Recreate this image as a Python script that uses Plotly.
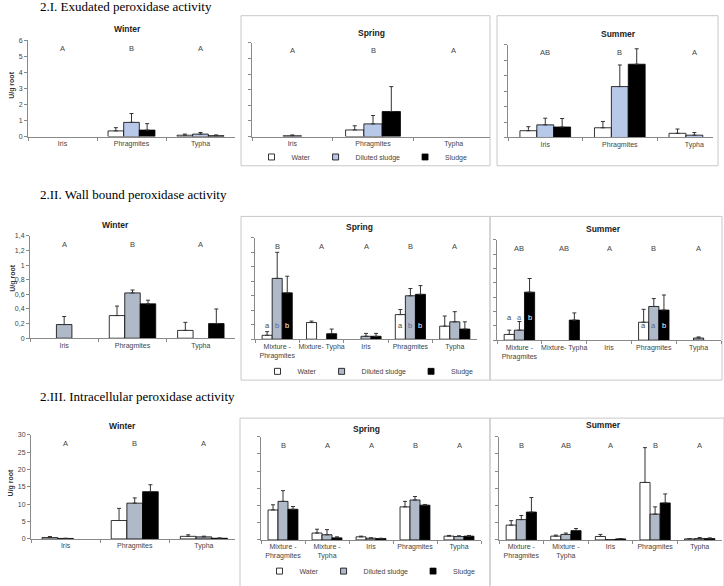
import plotly.graph_objects as go

W, H = 724, 586

# ---------------- data ----------------
SERIES = ["Water", "Diluted sludge", "Sludge"]
CATS3 = ["Iris", "Phragmites", "Typha"]
CATS5_WB = ["Mixture -<br>Phragmites", "Mixture- Typha", "Iris", "Phragmites", "Typha"]
CATS5_IC = ["Mixture -<br>Phragmites", "Mixture -<br>Typha", "Iris", "Phragmites", "Typha"]

# 2.I Exudated peroxidase activity (U/g root); rows = Water, Diluted sludge, Sludge
EX_WINTER = [[None, 0.35, 0.08], [None, 0.88, 0.15], [None, 0.40, 0.05]]
EX_WINTER_ERR = [[None, 0.20, 0.07], [None, 0.55, 0.10], [None, 0.40, 0.05]]
EX_SPRING = [[None, 0.42, None], [0.05, 0.81, None], [None, 1.60, None]]
EX_SPRING_ERR = [[None, 0.27, None], [0.05, 0.54, None], [None, 1.60, None]]
EX_SUMMER = [[0.44, 0.63, 0.27], [0.82, 3.30, 0.15], [0.68, 4.75, None]]
EX_SUMMER_ERR = [[0.26, 0.41, 0.28], [0.43, 1.40, 0.17], [0.55, 1.00, None]]

# 2.II Wall bound peroxidase activity
WB_WINTER = [[None, 0.31, 0.107], [0.187, 0.62, None], [None, 0.47, 0.20]]
WB_WINTER_ERR = [[None, 0.13, 0.11], [0.11, 0.04, None], [None, 0.05, 0.20]]
WB_SPRING = [[0.054, 0.23, None, 0.34, 0.18], [0.84, None, 0.04, 0.60, 0.24], [0.64, 0.076, 0.04, 0.62, 0.14]]
WB_SPRING_ERR = [[0.05, 0.02, None, 0.07, 0.14], [0.36, None, 0.04, 0.10, 0.14], [0.23, 0.064, 0.04, 0.12, 0.10]]
WB_SUMMER = [[0.08, None, None, 0.25, None], [0.14, None, None, 0.47, 0.03], [0.67, 0.28, None, 0.42, None]]
WB_SUMMER_ERR = [[0.06, None, None, 0.18, None], [0.12, None, None, 0.11, 0.015], [0.19, 0.10, None, 0.21, None]]

# 2.III Intracellular peroxidase activity
IC_WINTER = [[0.40, 5.3, 0.75], [0.15, 10.3, 0.60], [None, 13.6, 0.20]]
IC_WINTER_ERR = [[0.30, 3.5, 0.45], [0.05, 1.5, 0.20], [None, 2.0, 0.10]]
IC_SPRING = [[8.7, 2.0, 0.9, 9.6, 1.1], [11.2, 1.5, 0.5, 11.6, 1.0], [8.9, 0.6, 0.4, 10.1, 1.1]]
IC_SPRING_ERR = [[1.5, 1.1, 0.2, 1.6, 0.2], [3.1, 1.5, 0.1, 1.0, 0.2], [0.8, 0.3, 0.1, 0.2, 0.2]]
IC_SUMMER = [[4.3, 1.1, 1.0, 16.7, 0.3], [5.9, 1.6, 0.1, 7.5, 0.4], [8.1, 2.7, 0.3, 10.75, 0.4]]
IC_SUMMER_ERR = [[1.3, 0.3, 0.6, 10.1, 0.1], [1.2, 0.4, None, 2.1, 0.3], [4.2, 0.6, 0.1, 2.6, 0.2]]

# significance letters
EX_LETTERS = [["A", "B", "A"], ["A", "B", "A"], ["AB", "B", "A"]]
WB_LETTERS = [["A", "B", "A"], ["B", "A", "A", "B", "A"], ["AB", "AB", "A", "B", "A"]]
IC_LETTERS = [["A", "B", "A"], ["B", "A", "A", "B", "A"], ["B", "AB", "A", "B", "A"]]
WB_SPRING_SUB = [["a", "b", "b"], [], [], ["a", "b", "b"], []]
WB_SUMMER_SUB = [["a", "a", "b"], [], [], ["a", "a", "b"], []]

Y_TICKS = {
    "ex": ([0, 1, 2, 3, 4, 5, 6], ["0", "1", "2", "3", "4", "5", "6"]),
    "wb": ([0, 0.2, 0.4, 0.6, 0.8, 1.0, 1.2, 1.4], ["0", "0,2", "0,4", "0,6", "0,8", "1", "1,2", "1,4"]),
    "ic": ([0, 5, 10, 15, 20, 25, 30], ["0", "5", "10", "15", "20", "25", "30"]),
}

# ---------------- layout spec (pixels) ----------------
BARGAP = 0.32
BW = (1 - BARGAP) / 3
DIL_ROW1 = "#b7c8e8"
DIL_ROW23 = "#b0b9c8"

# kind, season, cats, vals, errs, letters, x0, x1, yzero, ytop, xrange
PANELS = [
    ("ex", "Winter", CATS3, EX_WINTER, EX_WINTER_ERR, EX_LETTERS[0], 28, 235, 136, 37, [-0.5, 2.5]),
    ("ex", "Spring", CATS3, EX_SPRING, EX_SPRING_ERR, EX_LETTERS[1], 252, 490, 136, 40, [-0.5, 2.45]),
    ("ex", "Summer", CATS3, EX_SUMMER, EX_SUMMER_ERR, EX_LETTERS[2], 508, 713, 137, 42, [-0.5, 2.25]),
    ("wb", "Winter", CATS3, WB_WINTER, WB_WINTER_ERR, WB_LETTERS[0], 30, 235, 343, 238, [-0.5, 2.5]),
    ("wb", "Spring", CATS5_WB, WB_SPRING, WB_SPRING_ERR, WB_LETTERS[1], 255, 477, 344, 240, [-0.5, 4.5]),
    ("wb", "Summer", CATS5_WB, WB_SUMMER, WB_SUMMER_ERR, WB_LETTERS[2], 497, 721, 345, 242, [-0.5, 4.5]),
    ("ic", "Winter", CATS3, IC_WINTER, IC_WINTER_ERR, IC_LETTERS[0], 31, 235, 549, 442, [-0.5, 2.45]),
    ("ic", "Spring", CATS5_IC, IC_SPRING, IC_SPRING_ERR, IC_LETTERS[1], 261, 481, 550, 444, [-0.5, 4.5]),
    ("ic", "Summer", CATS5_IC, IC_SUMMER, IC_SUMMER_ERR, IC_LETTERS[2], 499, 722, 550, 444, [-0.5, 4.5]),
]
YMAX = {"ex": 6, "wb": 1.4, "ic": 30}
SEASON_TITLE_POS = [(127, 26), (371, 30), (618, 31), (115, 227), (359, 229), (603, 231), (122, 433), (367, 436), (603, 432)]
SECTION_TITLES = [("2.I. Exudated peroxidase activity", 3),
                  ("2.II. Wall bound peroxidase activity", 196),
                  ("2.III. Intracellular peroxidase activity", 403)]
YTITLE_POS = [(12, 84), (13, 282), (11, 492)]
LEGEND_POS = [(362, 157), (368, 377), (370, 582)]
FRAMES = [(241, 12, 490, 166), (497, 12, 718, 166),
          (241, 218, 490, 386), (490, 218, 722, 386),
          (240, 425, 490, 600), (490, 425, 724, 600)]


def px(x):
    return x / W


def py(y):
    return 1 - y / H


AX_COLOR = "#8a8a8a"
TICK_FONT = dict(family="Liberation Sans, Arial", size=7, color="#444")

fig = go.Figure()
layout = dict(
    width=W, height=H, margin=dict(l=0, r=0, t=0, b=0),
    paper_bgcolor="white", plot_bgcolor="white",
    barmode="group", bargap=BARGAP, bargroupgap=0,
    showlegend=True, annotations=[], shapes=[],
)

for i, (kind, season, cats, vals, errs, letters, x0, x1, yz, yt, xr) in enumerate(PANELS):
    n = i + 1
    xa = "x" if n == 1 else f"x{n}"
    ya = "y" if n == 1 else f"y{n}"
    dil = DIL_ROW1 if kind == "ex" else DIL_ROW23
    fills = ["white", dil, "black"]
    for s, name in enumerate(SERIES):
        fig.add_trace(go.Bar(
            x=cats, y=vals[s], name=name, xaxis=xa, yaxis=ya, showlegend=False,
            marker=dict(color=fills[s], line=dict(color="black", width=0.8)),
            error_y=dict(type="data", symmetric=False, array=errs[s],
                         arrayminus=[0] * len(cats), color="#333", thickness=1, width=2),
        ))
    ymax = YMAX[kind]
    tv, tt = Y_TICKS[kind]
    layout["xaxis" if n == 1 else f"xaxis{n}"] = dict(
        domain=[px(x0), px(x1)], anchor=ya, type="category", range=xr,
        showline=True, linecolor=AX_COLOR, linewidth=1, ticks="outside", tickson="boundaries",
        ticklen=3, tickcolor=AX_COLOR, tickfont=TICK_FONT, tickangle=0,
        showgrid=False, fixedrange=True,
    )
    layout["yaxis" if n == 1 else f"yaxis{n}"] = dict(
        domain=[py(yz), py(yt)], anchor=xa, range=[0, ymax],
        showline=True, linecolor=AX_COLOR, linewidth=1, ticks="outside", ticklen=3,
        tickcolor=AX_COLOR, tickvals=tv, ticktext=tt, tickfont=TICK_FONT,
        showgrid=False, zeroline=False, fixedrange=True,
        showticklabels=(season == "Winter"),
    )

    # season title
    tx, ty = SEASON_TITLE_POS[i]
    layout["annotations"].append(dict(
        text=f"<b>{season}</b>", x=px(tx), y=py(ty), xref="paper", yref="paper",
        showarrow=False, xanchor="center", yanchor="middle",
        font=dict(family="Liberation Sans, Arial", size=8.5, color="#222")))
    # group letters
    for c, letter in enumerate(letters):
        layout["annotations"].append(dict(
            text=letter, x=c, y=ymax * 0.915, xref=xa, yref=ya, showarrow=False,
            font=dict(family="Liberation Sans, Arial", size=7.5, color="#444")))

# sub letters in wall bound spring/summer
for n, subs, ypos in [(5, WB_SPRING_SUB, [0.19, None, None, 0.19, None]),
                      (6, WB_SUMMER_SUB, [0.32, None, None, 0.20, None])]:
    for c, trio in enumerate(subs):
        for s, letter in enumerate(trio):
            layout["annotations"].append(dict(
                text=letter, x=c + (s - 1) * BW, y=ypos[c], xref=f"x{n}", yref=f"y{n}",
                showarrow=False,
                font=dict(family="Liberation Sans, Arial", size=7.5,
                          color=("#444" if s == 0 else ("white" if s == 2 else "#5a6890")))))

# section titles
for text, ty in SECTION_TITLES:
    layout["annotations"].append(dict(
        text=text, x=px(38), y=py(ty), xref="paper", yref="paper", showarrow=False,
        xanchor="left", yanchor="middle",
        font=dict(family="Liberation Serif, Times New Roman", size=13, color="black")))

# y axis titles
for tx, ty in YTITLE_POS:
    layout["annotations"].append(dict(
        text="<b>U/g root</b>", x=px(tx), y=py(ty), xref="paper", yref="paper",
        showarrow=False, textangle=-90, xanchor="center", yanchor="middle",
        font=dict(family="Liberation Sans, Arial", size=7, color="#333")))

# panel frames
for fx0, fy0, fx1, fy1 in FRAMES:
    layout["shapes"].append(dict(
        type="rect", xref="paper", yref="paper", x0=px(fx0), x1=px(fx1), y0=py(fy1), y1=py(fy0),
        line=dict(color="#c8c8c8", width=1), fillcolor="rgba(0,0,0,0)", layer="below"))

# legends (one per row), markers only
legend_names = ["legend", "legend2", "legend3"]
for r in range(3):
    lx, ly = LEGEND_POS[r]
    n = 3 * r + 2
    xa, ya = f"x{n}", f"y{n}"
    dil = DIL_ROW1 if r == 0 else DIL_ROW23
    fills = ["white", dil, "black"]
    for s, name in enumerate(SERIES):
        fig.add_trace(go.Scatter(
            x=[None], y=[None], mode="markers", name=name, xaxis=xa, yaxis=ya,
            legend=legend_names[r], showlegend=True,
            marker=dict(symbol="square", size=6, color=fills[s], line=dict(color="black", width=0.8)),
        ))
    layout[legend_names[r]] = dict(
        orientation="h", x=px(lx), y=py(ly), xanchor="center", yanchor="middle",
        bgcolor="rgba(0,0,0,0)", itemwidth=30,
        font=dict(family="Liberation Sans, Arial", size=7, color="#444"))

fig.update_layout(**layout)
fig.write_html("out.html")
